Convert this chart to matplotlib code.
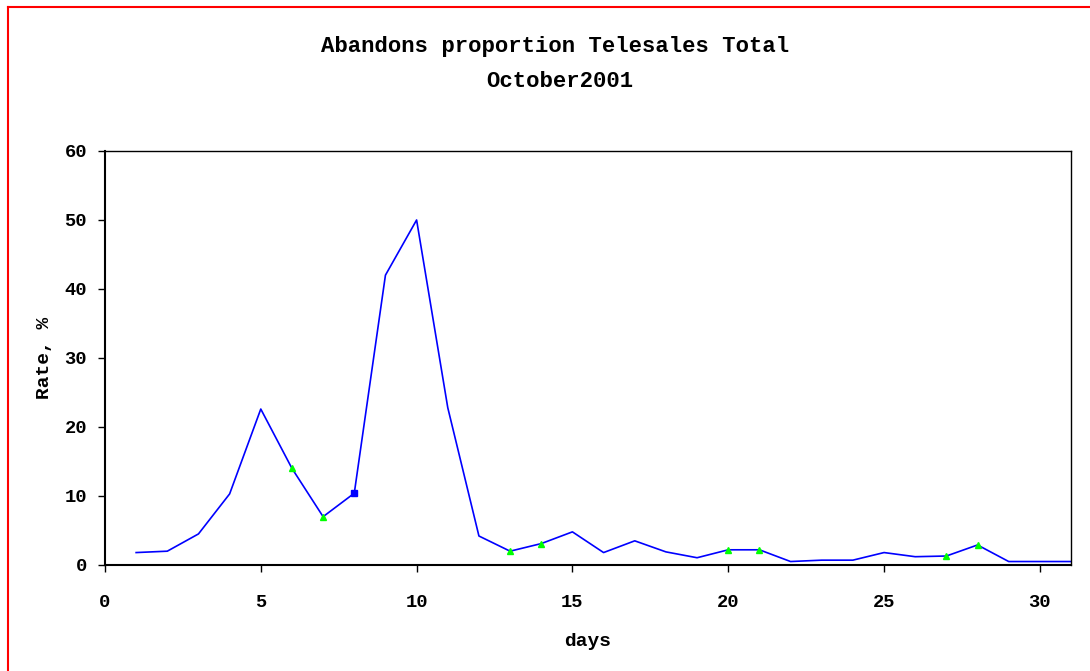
import matplotlib
matplotlib.use("Agg")
import matplotlib.pyplot as plt
from matplotlib.lines import Line2D
import numpy as np

# daily abandon rate, %, October 2001
days = list(range(1, 32))
rate = [1.8, 2.0, 4.5, 10.3, 22.6, 14.0, 7.0, 10.4, 42.0, 50.0,
        22.8, 4.2, 2.0, 3.1, 4.8, 1.8, 3.5, 1.9, 1.05, 2.2,
        2.2, 0.5, 0.7, 0.7, 1.8, 1.2, 1.3, 2.9, 0.5, 0.5, 0.5]
weekend_days = [6, 7, 13, 14, 20, 21, 27, 28]
holiday_days = [8]

xticks = [0, 5, 10, 15, 20, 25, 30]
yticks = [0, 10, 20, 30, 40, 50, 60]

font = "Liberation Mono"
plt.rcParams['font.family'] = [font, 'DejaVu Sans Mono']
plt.rcParams['font.weight'] = 'bold'

fig = plt.figure(figsize=(10.9, 6.71), dpi=100)
ax = fig.add_axes([0.0963, 0.158, 0.8863, 0.617])

ax.plot(days, rate, color='#0000ff', lw=1.2, zorder=2)
wk = [rate[d - 1] for d in weekend_days]
ax.plot(weekend_days, wk, ls='none', marker='^', ms=5, color='#00ff00', zorder=3)
hd = [rate[d - 1] for d in holiday_days]
ax.plot(holiday_days, hd, ls='none', marker='s', ms=4, color='#0000ff', zorder=3)

ax.set_xlim(0, 31)
ax.set_ylim(0, 60)
ax.set_xticks(xticks)
ax.set_yticks(yticks)
ax.tick_params(axis='both', direction='out', length=5, width=1, labelsize=13.5, pad=8)
ax.tick_params(axis='x', pad=16)
for lab in ax.get_xticklabels() + ax.get_yticklabels():
    lab.set_fontweight('bold')
for s in ax.spines.values():
    s.set_linewidth(1.0)
ax.spines['left'].set_linewidth(1.5)
ax.spines['bottom'].set_linewidth(1.5)

ax.set_xlabel('days', fontsize=14, fontweight='bold', labelpad=16)
ax.set_ylabel('Rate, %', fontsize=14, fontweight='bold', labelpad=8)

fig.text(0.509, 0.930, 'Abandons proportion Telesales Total', ha='center', va='center',
         fontsize=16, fontweight='bold')
fig.text(0.514, 0.878, 'October2001', ha='center', va='center',
         fontsize=16, fontweight='bold')

# red frame (top and left edges visible)
fig.add_artist(Line2D([0.0073, 1.0], [0.9896, 0.9896], color='#ff0000', lw=1.5,
                      transform=fig.transFigure))
fig.add_artist(Line2D([0.0073, 0.0073], [0.0, 0.9896], color='#ff0000', lw=1.5,
                      transform=fig.transFigure))

fig.savefig('out.png', dpi=100)
